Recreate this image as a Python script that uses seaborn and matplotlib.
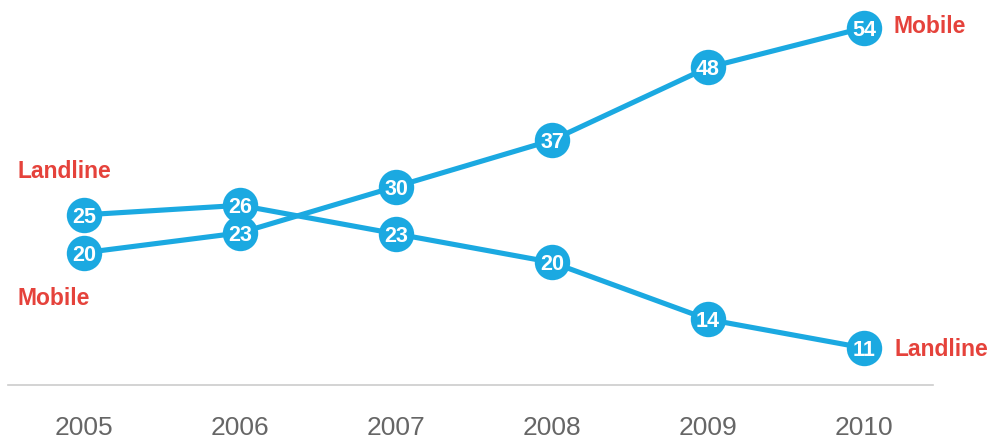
import matplotlib
matplotlib.use("Agg")
import matplotlib.pyplot as plt
import seaborn as sns

# Data
years = [2005, 2006, 2007, 2008, 2009, 2010]
mobile = [20, 23, 30, 37, 48, 54]
landline = [25, 26, 23, 20, 14, 11]

BLUE = "#1BA9E1"
RED = "#E5423B"

sns.set_theme(style="white")
plt.rcParams["font.family"] = ["Liberation Sans", "DejaVu Sans"]

fig = plt.figure(figsize=(9.98, 4.46), dpi=100)
ax = fig.add_axes([0, 0.1368, 1, 0.8632])
ax2 = ax.twinx()

sns.lineplot(x=years, y=mobile, ax=ax, color=BLUE, linewidth=3.7,
             marker="o", markersize=25.5, markeredgewidth=0)
sns.lineplot(x=years, y=landline, ax=ax2, color=BLUE, linewidth=3.7,
             marker="o", markersize=25.5, markeredgewidth=0)

for a, vals in ((ax, mobile), (ax2, landline)):
    for x, v in zip(years, vals):
        a.text(x, v, str(v), color="white", fontsize=15.5, fontweight="bold",
               ha="center", va="center_baseline", zorder=5)

ax.set_xlim(2004.46, 2010.86)
ax2.set_xlim(2004.46, 2010.86)
ax.set_ylim(0, 58.2)
ax2.set_ylim(7.1, 47.6)

# series labels
lab = dict(color=RED, fontsize=16.5, fontweight="bold", textcoords="offset points",
           ha="left", va="center")
ax2.annotate("Landline", xy=(years[0], landline[0]), xytext=(-48, 31), **lab)
ax.annotate("Mobile", xy=(years[0], mobile[0]), xytext=(-48, -33), **lab)
ax.annotate("Mobile", xy=(years[-1], mobile[-1]), xytext=(21, 1), **lab)
ax2.annotate("Landline", xy=(years[-1], landline[-1]), xytext=(22, -1), **lab)

for a in (ax, ax2):
    for s in ("top", "right", "left"):
        a.spines[s].set_visible(False)
    a.set_yticks([])
    a.set_ylabel("")
ax2.spines["bottom"].set_visible(False)
ax2.tick_params(axis="x", length=0, labelbottom=False)

ax.spines["bottom"].set_color("#cccccc")
ax.spines["bottom"].set_linewidth(1.2)
ax.spines["bottom"].set_bounds(2004.51, 2010.44)
ax.set_xticks(years)
ax.set_xticklabels([str(y) for y in years])
ax.tick_params(axis="x", length=0, pad=22, labelsize=19, labelcolor="#666666")
ax.patch.set_alpha(0)

fig.savefig("out.png", dpi=100)
